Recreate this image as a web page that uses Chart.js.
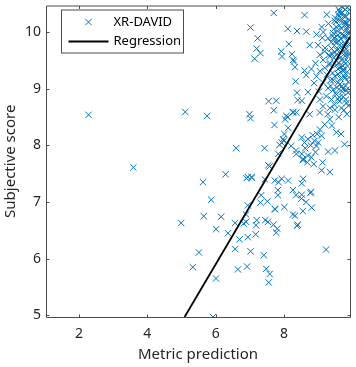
<!DOCTYPE html>
<html>
<head>
<meta charset="utf-8">
<script src="https://cdn.jsdelivr.net/npm/chart.js@4/dist/chart.umd.min.js"></script>
<style>
  html, body { margin: 0; padding: 0; background: #ffffff; }
  #wrap { width: 356px; height: 367px; }
</style>
</head>
<body>
<div id="wrap"><canvas id="c" width="356" height="367"></canvas></div>
<script>
// ---- data ----
const seriesName = "XR-DAVID";
const regressionName = "Regression";
const xTitle = "Metric prediction";
const yTitle = "Subjective score";
const xTicks = [2, 4, 6, 8];
const yTicks = [5, 6, 7, 8, 9, 10];
const xRange = [1.035, 9.93];
const yRange = [4.97, 10.47];

const predX = [
  2.28, 3.59, 5.11, 5.75, 6.99, 7.02, 7.70, 8.60, 9.25, 7.02, 7.23, 7.20, 7.31, 7.14, 7.55, 7.77, 7.70, 7.72, 6.60, 7.43,
  6.29, 6.94, 7.06, 8.11, 8.38, 8.65, 8.14, 7.92, 7.94, 8.23, 8.29, 8.32, 8.60, 8.65, 8.34, 8.38, 8.70, 8.40, 8.52, 8.11,
  8.26, 8.03, 8.75, 8.01, 7.99, 7.87, 8.21, 8.35, 8.52, 8.60, 8.70, 8.89, 8.52, 8.55, 8.70, 8.87, 9.13, 9.77, 9.67, 9.84,
  9.81, 9.86, 9.74,
  5.63, 5.87, 4.99, 5.65, 6.16, 6.01, 6.36, 5.51, 5.33, 6.01, 5.92, 6.57, 6.70, 6.57, 6.65, 6.92, 7.02, 6.94, 7.17, 6.89,
  6.82, 7.18, 7.20, 7.41, 7.45, 7.53, 7.48, 7.58, 7.55, 7.69, 7.80, 7.77, 7.74, 8.01, 8.26, 8.32, 8.38, 8.40, 8.55, 8.81,
  8.65, 8.77, 9.23, 7.31, 7.33, 6.94, 6.89, 7.82, 7.82, 7.84, 8.35, 8.52, 8.79, 8.26, 8.52,
  8.07, 7.93, 7.83, 7.73, 7.93, 8.12, 8.56, 8.51, 7.73, 8.36, 8.56, 9.10, 9.34, 8.95, 9.29, 9.49, 9.53, 9.34, 9.19, 9.05,
  9.10, 8.97, 8.80, 8.12, 7.97, 7.54, 6.90, 7.05, 7.44, 7.51, 7.58,
  9.58, 9.85, 9.63, 9.78, 9.53, 9.68, 9.83, 9.44, 9.58, 9.75, 9.92, 9.10, 8.95, 8.75, 9.00, 9.29, 9.19, 9.39, 9.49, 9.63,
  9.78, 9.34, 9.53, 9.73, 9.14, 9.68, 9.87, 9.50, 9.70, 9.80, 9.90, 9.60,
  8.27, 8.27, 8.36, 9.05, 8.95, 9.19, 9.14, 9.29, 9.44, 9.24, 9.39, 9.53, 9.63, 9.14, 9.34, 9.49, 9.68, 9.05, 9.49, 9.58,
  9.78, 9.73, 9.53, 9.34, 9.87, 9.83, 9.05,
  9.62, 9.71, 9.88, 9.77, 9.84, 9.66, 9.58, 9.82, 9.90, 9.46, 9.60, 9.72, 9.85, 9.42, 9.65, 9.80, 9.55, 9.70, 9.36, 9.25,
  9.48, 9.38, 9.52, 9.75, 9.92, 9.67, 9.45, 9.30, 9.87, 9.78, 9.58, 9.20, 9.05, 8.92, 9.12, 9.62, 9.47, 9.28, 9.60, 9.75,
  9.40, 9.02, 8.88, 8.80, 9.15, 9.88, 9.72, 9.55,
  9.64, 9.79, 9.91, 9.56, 9.69, 9.83, 9.47, 9.61, 9.74, 9.89, 9.40, 9.53, 9.66, 9.81, 9.33, 9.58, 9.71, 9.86, 9.44, 9.63,
  9.77, 9.90, 9.50, 9.68, 9.82, 9.36, 9.57, 9.73, 9.88, 9.62, 9.79, 9.48, 9.70, 9.85, 9.55, 9.66, 9.31, 9.76, 9.91, 9.42,
  8.62, 8.78, 8.92, 8.68, 8.84, 9.00
];
const scoreY = [
  8.54, 7.61, 8.59, 8.52, 8.55, 8.48, 10.34, 10.30, 10.31, 10.08, 9.89, 9.71, 9.63, 9.53, 8.78, 8.79, 8.62, 8.36, 7.95, 7.95,
  7.49, 7.44, 7.43, 10.06, 10.02, 10.01, 9.79, 9.66, 9.57, 9.61, 9.48, 9.38, 9.32, 9.24, 9.13, 8.93, 8.94, 8.80, 8.79, 8.50,
  8.58, 8.46, 8.55, 8.20, 8.08, 8.01, 7.99, 7.91, 8.14, 8.05, 8.11, 8.08, 7.85, 7.74, 7.82, 7.67, 7.70, 8.02, 8.20, 8.55,
  8.81, 9.48, 9.31,
  7.35, 7.04, 6.63, 6.75, 6.74, 6.52, 6.45, 6.11, 5.85, 5.65, 4.97, 6.17, 6.34, 6.63, 5.81, 5.86, 6.13, 6.38, 6.43, 6.65,
  6.62, 6.59, 6.68, 6.06, 6.68, 6.65, 5.82, 5.73, 5.58, 6.60, 6.53, 6.46, 6.87, 6.91, 6.78, 6.76, 6.58, 6.60, 6.84, 6.90,
  7.00, 7.16, 6.16, 6.99, 7.12, 6.94, 6.78, 7.21, 7.12, 7.35, 7.12, 7.13, 7.18, 7.21, 7.33,
  8.52, 8.05, 7.85, 7.38, 7.41, 7.38, 7.41, 7.06, 6.88, 7.85, 7.76, 7.56, 7.53, 7.99, 7.89, 7.91, 8.23, 8.46, 8.37, 8.28,
  8.17, 8.20, 7.79, 8.31, 8.11, 7.65, 7.42, 7.44, 7.40, 7.01, 7.63,
  10.31, 10.43, 10.21, 10.18, 10.09, 10.06, 10.04, 9.98, 9.95, 9.95, 9.98, 10.09, 9.96, 9.77, 9.77, 9.89, 9.66, 9.71, 9.83, 9.77,
  9.80, 9.57, 9.60, 9.66, 9.51, 9.51, 9.57, 10.25, 10.35, 10.28, 10.22, 10.40,
  9.51, 8.59, 8.58, 9.31, 9.22, 9.37, 9.11, 9.01, 8.98, 8.87, 8.81, 8.90, 8.78, 8.69, 8.66, 8.63, 8.66, 8.58, 9.22, 9.11,
  9.19, 9.34, 9.42, 9.45, 8.93, 8.75, 8.81,
  10.12, 10.22, 10.10, 9.92, 9.85, 9.88, 9.70, 9.70, 9.62, 9.55, 9.45, 9.40, 9.30, 9.28, 9.18, 9.05, 9.02, 8.95, 9.15, 9.25,
  9.65, 9.82, 10.18, 10.28, 10.40, 10.32, 10.05, 10.15, 9.98, 9.58, 9.35, 9.72, 9.60, 9.45, 9.90, 8.85, 8.72, 8.55, 8.50, 8.62,
  8.35, 8.95, 9.10, 9.35, 10.00, 9.12, 9.00, 9.82,
  10.26, 10.14, 10.33, 10.02, 9.96, 10.08, 9.90, 9.84, 9.76, 9.78, 9.62, 9.50, 9.56, 9.64, 9.42, 9.26, 9.32, 9.40, 9.15, 9.08,
  9.22, 9.20, 8.92, 9.04, 8.98, 9.05, 8.82, 8.86, 8.70, 10.36, 10.40, 10.20, 10.44, 10.16, 9.68, 9.38, 9.60, 9.48, 9.88, 9.93,
  7.95, 8.00, 7.88, 7.70, 8.18, 8.05
];
// regression line end points (value space)
const regX = [5.09, 9.93];
const regY = [4.97, 9.92];

const points = predX.map((x, i) => ({ x: x, y: scoreY[i] }));
const regPoints = regX.map((x, i) => ({ x: x, y: regY[i] }));

const BLUE = '#0072BD';
const AXIS = '#4d4d4d';
const TEXT = '#262626';
const FONT = '"Noto Sans", "Open Sans", sans-serif';

function drawX(ctx, x, y, r) {
  const d = r * Math.SQRT1_2;
  ctx.beginPath();
  ctx.moveTo(x - d, y - d); ctx.lineTo(x + d, y + d);
  ctx.moveTo(x + d, y - d); ctx.lineTo(x - d, y + d);
  ctx.stroke();
}

const frame = {
  id: 'frame',
  afterDatasetsDraw(chart) {
    const ctx = chart.ctx;
    const a = chart.chartArea;
    const xs = chart.scales.x, ys = chart.scales.y;
    ctx.save();
    ctx.strokeStyle = AXIS;
    ctx.lineWidth = 1;
    const L = a.left + 0.5, R = a.right + 0.5, T = a.top + 0.5, B = a.bottom + 0.5;
    ctx.beginPath();
    ctx.rect(L, T, R - L, B - T);
    ctx.stroke();
    const tl = 3;
    ctx.beginPath();
    xTicks.forEach(v => {
      const px = Math.round(xs.getPixelForValue(v)) + 0.5;
      ctx.moveTo(px, B); ctx.lineTo(px, B - tl);
      ctx.moveTo(px, T); ctx.lineTo(px, T + tl);
    });
    yTicks.forEach(v => {
      const py = Math.round(ys.getPixelForValue(v)) + 0.5;
      ctx.moveTo(L, py); ctx.lineTo(L + tl, py);
      ctx.moveTo(R, py); ctx.lineTo(R - tl, py);
    });
    ctx.stroke();

    // legend box
    const bx = a.left + 15.5, by = a.top + 4.5, bw = 122, bh = 43;
    ctx.fillStyle = '#ffffff';
    ctx.fillRect(bx, by, bw, bh);
    ctx.strokeStyle = AXIS;
    ctx.strokeRect(bx, by, bw, bh);
    ctx.strokeStyle = BLUE;
    ctx.lineWidth = 1;
    drawX(ctx, bx + 27, by + 12, 4.5);
    ctx.fillStyle = '#000000';
    ctx.font = '13px ' + FONT;
    ctx.textBaseline = 'middle';
    ctx.textAlign = 'left';
    ctx.fillText(seriesName, bx + 52, by + 12);
    ctx.strokeStyle = '#000000';
    ctx.lineWidth = 1.8;
    ctx.beginPath();
    ctx.moveTo(bx + 7, by + 31.5); ctx.lineTo(bx + 47, by + 31.5);
    ctx.stroke();
    ctx.fillText(regressionName, bx + 52, by + 31.5);
    ctx.restore();
  }
};

new Chart(document.getElementById('c'), {
  type: 'scatter',
  data: {
    datasets: [
      {
        label: seriesName,
        data: points,
        showLine: false,
        pointStyle: 'crossRot',
        pointRadius: 4.5,
        pointHoverRadius: 4.5,
        borderColor: BLUE,
        backgroundColor: BLUE,
        pointBorderWidth: 1,
        borderWidth: 1,
        order: 2
      },
      {
        label: regressionName,
        type: 'line',
        data: regPoints,
        showLine: true,
        borderColor: '#000000',
        borderWidth: 1.8,
        pointRadius: 0,
        fill: false,
        order: 1
      }
    ]
  },
  options: {
    responsive: false,
    devicePixelRatio: 1,
    animation: false,
    events: [],
    layout: { padding: { left: 0, right: 6, top: 3, bottom: 0 } },
    plugins: {
      legend: { display: false },
      tooltip: { enabled: false }
    },
    scales: {
      x: {
        type: 'linear',
        min: xRange[0],
        max: xRange[1],
        afterBuildTicks: s => { s.ticks = xTicks.map(v => ({ value: v })); },
        afterFit: s => { s.height = 50; s.paddingLeft = 0; s.paddingRight = 0; },
        grid: { display: false, drawTicks: false },
        border: { display: false },
        ticks: { color: TEXT, font: { family: FONT, size: 14 }, padding: 9, maxRotation: 0, callback: v => String(v) },
        title: { display: true, text: xTitle, color: TEXT, font: { family: FONT, size: 15 }, padding: { top: 0, bottom: 3 } }
      },
      y: {
        type: 'linear',
        min: yRange[0],
        max: yRange[1],
        afterBuildTicks: s => { s.ticks = yTicks.map(v => ({ value: v })); },
        afterFit: s => { s.width = 46; s.paddingTop = 0; s.paddingBottom = 0; },
        grid: { display: false, drawTicks: false },
        border: { display: false },
        ticks: { color: TEXT, font: { family: FONT, size: 14 }, padding: 5, callback: v => String(v) },
        title: { display: true, text: yTitle, color: TEXT, font: { family: FONT, size: 15 }, padding: { top: 1.5, bottom: 0 } }
      }
    }
  },
  plugins: [frame]
});
</script>
</body>
</html>
